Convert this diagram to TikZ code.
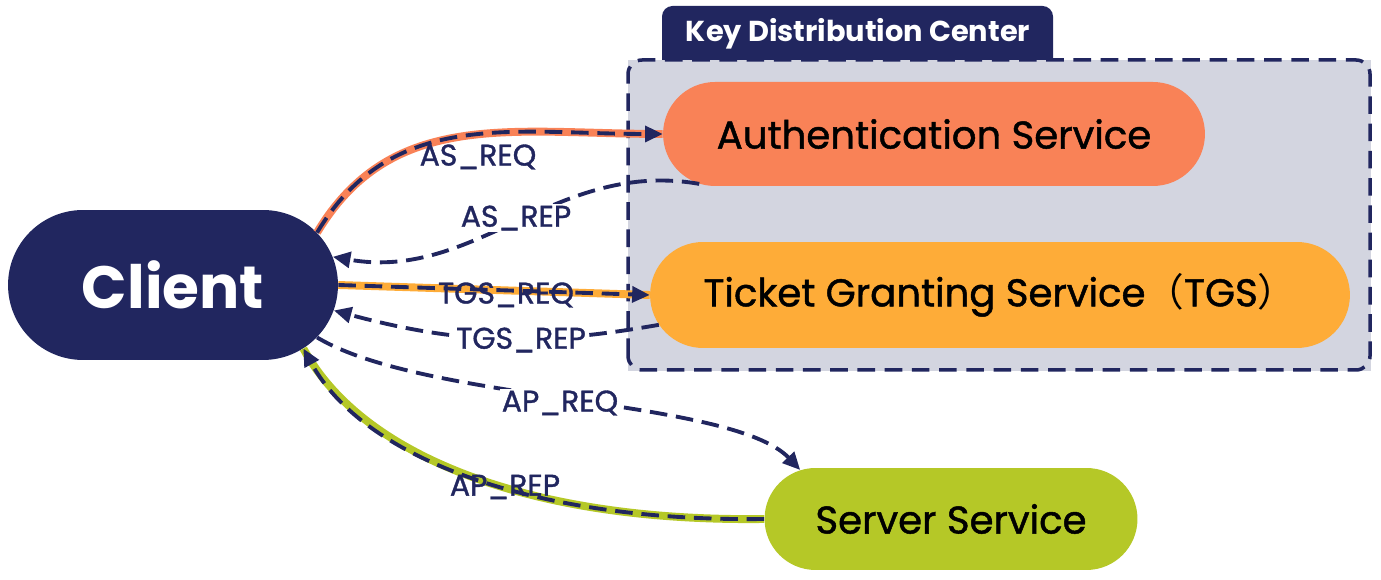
\documentclass[tikz,border=0pt]{standalone}
\usepackage{fontspec}
\setmainfont{Poppins}
\newfontfamily\medfont[FakeBold=1.2]{Poppins}
\newfontfamily\cjk{Noto Sans CJK SC}
\usepackage{tikz}
\usetikzlibrary{arrows.meta,shapes.misc}

\definecolor{navy}{HTML}{21265F}
\definecolor{coral}{HTML}{F98257}
\definecolor{amber}{HTML}{FEAC38}
\definecolor{lime}{HTML}{B5C827}
\definecolor{kdcgray}{HTML}{D3D5E0}

\begin{document}
\begin{tikzpicture}[x=0.02cm,y=0.02cm,
  service/.style={rounded rectangle,inner sep=0pt,text=black,font=\medfont\fontsize{22}{26}\selectfont},
  flow/.style={navy,line width=2.2pt,dash pattern=on 10pt off 5pt,-{Triangle[length=10pt,width=9pt]}},
  under/.style={preaction={draw,solid,-,line width=4.5pt,#1}},
  lbl/.style={text=navy,font=\medfont\fontsize{17}{19}\selectfont,inner sep=1pt}]
  \useasboundingbox (0,0) rectangle (1381,580);

  \draw[kdcgray,fill=kdcgray] (628,210) rectangle (1370,520);
  \draw[navy,line width=2pt,dash pattern=on 10pt off 5.5pt,rounded corners=8pt] (628,210) rectangle (1370,520);
  \fill[navy] (662,520) [rounded corners=6pt] -- (662,574) -- (1053,574) [sharp corners] -- (1053,520) -- cycle;
  \node (kdc) at (858,546) {\textcolor{white}{\bfseries\fontsize{16.4}{18}\selectfont Key Distribution Center}};

  \node (client) at (173,295) [rounded rectangle,fill=navy,inner sep=0pt,minimum width=6.6cm,minimum height=3cm,text=white,font=\bfseries\fontsize{34}{38}\selectfont] {Client};
  \node (auth) at (934,446) [service,fill=coral,minimum width=10.84cm,minimum height=2.08cm] {Authentication Service};
  \node (tgs) at (1000,285) [service,fill=amber,minimum width=14cm,minimum height=2.12cm] {Ticket Granting Service{\cjk （}TGS{\cjk ）}};
  \node (server) at (951,61) [service,fill=lime,minimum width=7.46cm,minimum height=2.04cm] {Server Service};

  \draw[flow,under=coral] (client.20) .. controls +(75,125) and +(-150,0) .. (auth.west);
  \draw[flow] (auth.192) .. controls +(-143,25) and +(143,-25) .. (client.10);
  \draw[flow,under=amber] (client.east) -- (tgs.west);
  \draw[flow] (tgs.185) .. controls +(-125,-22) and +(123,-33) .. (client.-9);
  \draw[flow] (client.-20) .. controls +(108,-65) and +(-68,72) .. (server.162);
  \draw[flow,under=lime] (server.west) .. controls +(-230,-3) and +(60,-110) .. (client.-26);

  \node[lbl] (asreq) at (478,423) {AS\_REQ};
  \node[lbl,fill=white] (asrep) at (516,362) {AS\_REP};
  \node[lbl] (tgsreq) at (506,285) {TGS\_REQ};
  \node[lbl,fill=white] (tgsrep) at (521,240) {TGS\_REP};
  \node[lbl,fill=white] (apreq) at (560,177) {AP\_REQ};
  \node[lbl] (aprep) at (505,93) {AP\_REP};
\end{tikzpicture}
\end{document}
